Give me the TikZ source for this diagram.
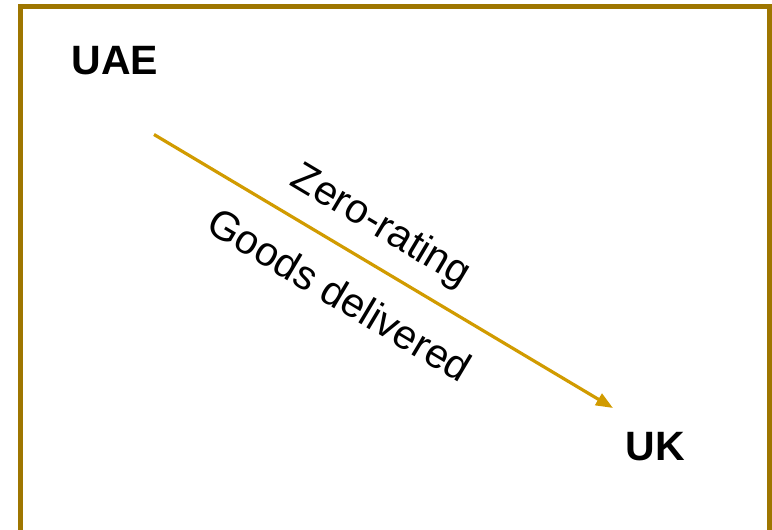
\documentclass[tikz,border=0pt]{standalone}
\usepackage{fontspec}
\setmainfont{Liberation Sans}
\usetikzlibrary{arrows.meta,calc}
\definecolor{framec}{RGB}{158,118,0}
\definecolor{arrowc}{RGB}{209,155,0}
\begin{document}
\begin{tikzpicture}[x=1pt,y=-1pt,
  country/.style={font=\fontsize{41}{49}\selectfont\bfseries, anchor=base, inner sep=0pt},
  lbl/.style={font=\fontsize{41}{49}\selectfont, anchor=base, inner sep=0pt, rotate=-30.79},
  flowline/.style={draw=arrowc, line width=3.2pt, -{Triangle[length=17pt,width=13pt]}},
  frameline/.style={draw=framec, line width=5pt}]
\useasboundingbox (0,0) rectangle (772,530);
\draw[frameline] (20,540) -- (20,6.8) -- (769.5,6.8) -- (769.5,540);
\node[country] (uae) at (115,74) {UAE};
\node[country] (uk) at (655.4,460) {UK};
\coordinate (s) at (154,134.5);
\coordinate (e) at (613,408);
\draw[flowline] (s) -- (e);
\coordinate (m) at ($(s)!0.452!(e)$);
\node[lbl] (zr) at ($(m)!26pt!90:(e)$) {Zero-rating};
\node[lbl] (gd) at ($(m)!57pt!-90:(e)$) {Goods delivered};
\end{tikzpicture}
\end{document}
